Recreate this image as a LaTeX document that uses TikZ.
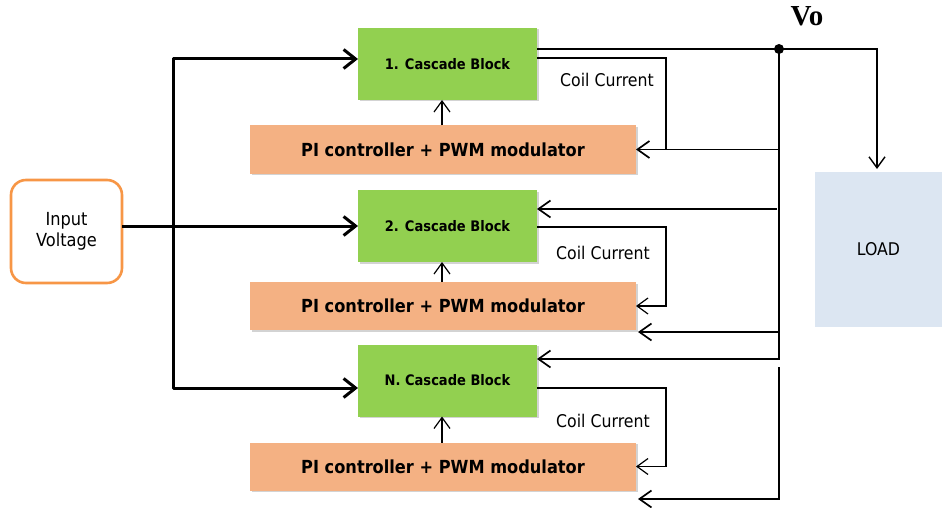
\documentclass[tikz,border=0pt]{standalone}
\usepackage{fontspec}
\setmainfont{DejaVu Sans}[FakeStretch=0.9]
\newfontfamily\vofont{Liberation Serif}
\usetikzlibrary{arrows.meta,shadows}
\definecolor{blockgreen}{HTML}{92D050}
\definecolor{piorange}{HTML}{F4B183}
\definecolor{inorange}{HTML}{F79646}
\definecolor{loadblue}{HTML}{DCE6F2}
\begin{document}
\begin{tikzpicture}[x=1pt,y=-1pt,
  shad/.style={drop shadow={shadow xshift=1.5pt,shadow yshift=-1.5pt,fill=black!50,opacity=.35}},
  cascade/.style={fill=blockgreen,minimum width=179pt,minimum height=72pt,inner sep=0pt,outer sep=0pt,
    font=\fontsize{14.5}{17}\selectfont\bfseries,shad},
  pibox/.style={fill=piorange,minimum width=386pt,minimum height=48pt,inner sep=0pt,outer sep=0pt,
    font=\fontsize{18}{21}\selectfont\bfseries,shad},
  inbox/.style={draw=inorange,line width=2.6pt,rounded corners=15pt,fill=white,minimum width=111pt,
    minimum height=103pt,inner sep=0pt,outer sep=0pt,align=center,font=\fontsize{18}{21}\selectfont},
  loadbox/.style={fill=loadblue,minimum width=127pt,minimum height=155pt,inner sep=0pt,outer sep=0pt,
    font=\fontsize{17.5}{21}\selectfont},
  lbl/.style={font=\fontsize{17.5}{21}\selectfont,inner sep=0pt},
  bus/.style={line width=3pt,line join=round,-{Straight Barb[length=12pt,width=19pt]}},
  fb/.style={line width=1.7pt,-{Straight Barb[length=12pt,width=17pt]}},
  coil/.style={line width=1.1pt},
  coilarr/.style={line width=1.2pt,-{Straight Barb[length=11pt,width=16pt]}},
]
\useasboundingbox (0,0) rectangle (942,508);

% blocks
\node[cascade] (b1) at (447.5,64) {1. Cascade Block};
\node[cascade] (b2) at (447.5,226) {2. Cascade Block};
\node[cascade] (bN) at (447.5,380.5) {N. Cascade Block};
\node[pibox] (p1) at (443,149.5) {PI controller + PWM modulator};
\node[pibox] (p2) at (443,306) {PI controller + PWM modulator};
\node[pibox] (p3) at (443,466.5) {PI controller + PWM modulator};
\node[inbox] (in) at (66.5,231.5) {Input\\Voltage};
\node[loadbox] (load) at (878.5,249.5) {LOAD};
\node[font=\vofont\fontsize{29}{30}\selectfont\bfseries,inner sep=0pt] (vo) at (807,16) {Vo};

% input bus
\coordinate (bt) at (173,59);
\coordinate (bb) at (173,388);
\draw[bus] (in.east |- b2.west) -- (b2.west);
\draw[bus] (bb) -- (bt) -- (bt -| b1.west);
\draw[bus] (bt) -- (bb) -- (bb -| bN.west);

% PI -> block arrows
\coordinate (ux) at (442,0);
\draw[coilarr] (ux |- p1.north) -- (ux |- b1.south);
\draw[coilarr] (ux |- p2.north) -- (ux |- b2.south);
\draw[coilarr] (ux |- p3.north) -- (ux |- bN.south);

% output
\coordinate (o1) at ([yshift=15pt]b1.east);
\coordinate (vj) at (779,49);
\coordinate (ld) at (877,49);
\draw[line width=1.4pt,-{Straight Barb[length=11pt,width=16pt]}] (o1) -- (ld) -- ([yshift=3pt]ld |- load.north);
\fill (vj) circle (5pt);

% feedback lines
\coordinate (fN) at ([yshift=21.5pt]bN.east);
\draw[fb] (vj) -- (vj |- fN) -- (fN);
\draw[fb] (vj |- p1.east) -- (p1.east);
\coordinate (f2) at ([yshift=17pt]b2.east);
\draw[fb] ([xshift=-2pt]vj |- f2) -- (f2);
\coordinate (f3) at ([yshift=-26pt,xshift=2pt]p2.east);
\draw[fb] (vj |- f3) -- (f3);
\coordinate (g) at (779,367);
\coordinate (f4) at ([yshift=-32.5pt,xshift=2pt]p3.east);
\draw[fb] (g) -- (g |- f4) -- (f4);

% coil current loops
\coordinate (k) at (666,0);
\draw[coil] ([yshift=6pt]b1.east) -| (k |- p1.east);
\draw[coilarr] ([yshift=-1pt]b2.east) -| (k |- p2.east) -- (p2.east);
\draw[coilarr] ([yshift=-7.5pt]bN.east) -| (k |- p3.east) -- (p3.east);
\node[lbl] (cc1) at (607,80) {Coil Current};
\node[lbl] (cc2) at (603,253) {Coil Current};
\node[lbl] (cc3) at (603,421) {Coil Current};
\end{tikzpicture}
\end{document}
